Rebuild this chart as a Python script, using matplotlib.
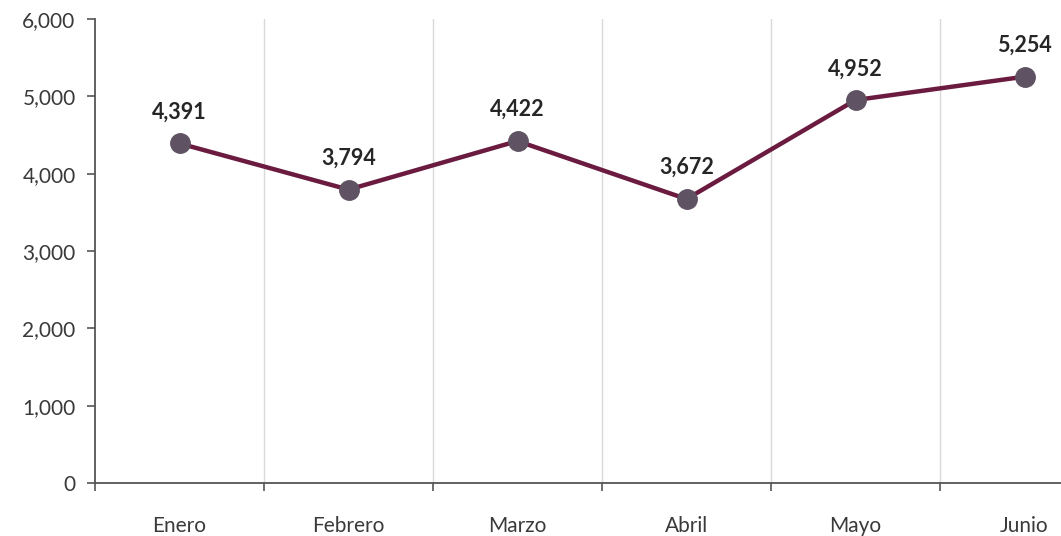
import numpy as np
import matplotlib.pyplot as plt
from matplotlib.ticker import FuncFormatter, MultipleLocator, FixedLocator

plt.rcParams['font.family'] = ['Lato', 'DejaVu Sans']

meses = ['Enero', 'Febrero', 'Marzo', 'Abril', 'Mayo', 'Junio']
valores = [4391, 3794, 4422, 3672, 4952, 5254]

fig = plt.figure(figsize=(10.61, 5.36), dpi=100)
# el eje sigue más allá del borde derecho, como en la hoja original
ax = fig.add_axes([95/1061, 53/536, 1014/1061, 464/536])

x = np.arange(len(meses))
ax.plot(x, valores, color='#6B1B3F', lw=3.2, zorder=3)
ax.plot(x, valores, 'o', ms=14, color='#5F5262', mec='#5F5262', zorder=4)

for xi, v in zip(x, valores):
    ax.annotate(f'{v:,}', (xi, v), xytext=(0, 15), textcoords='offset points',
                ha='center', va='bottom', fontsize=15.5, fontweight='bold',
                color='#262626')

ax.set_xlim(-0.5, len(meses) - 0.5)
ax.set_ylim(0, 6000)
ax.yaxis.set_major_locator(MultipleLocator(1000))
ax.yaxis.set_major_formatter(FuncFormatter(lambda v, p: f'{int(v):,}'))

# etiquetas en el centro, marcas en los límites de cada categoría
ax.set_xticks(x)
ax.set_xticklabels(meses)
ax.xaxis.set_minor_locator(FixedLocator(np.arange(-0.5, len(meses), 1)))
ax.tick_params(axis='x', which='major', length=0, pad=24, labelsize=15, labelcolor='#3A3A3A')
ax.tick_params(axis='x', which='minor', length=6, width=1.2, color='#555555', direction='out')
ax.tick_params(axis='y', length=6, width=1.2, color='#555555', pad=8, labelsize=15, labelcolor='#3A3A3A')

for b in np.arange(0.5, len(meses) - 0.5, 1):
    ax.axvline(b, color='#D9D9D9', lw=1, zorder=1)

for s in ['top', 'right']:
    ax.spines[s].set_visible(False)
for s in ['left', 'bottom']:
    ax.spines[s].set_color('#555555')
    ax.spines[s].set_linewidth(1.3)

fig.savefig('out.png', dpi=100)
